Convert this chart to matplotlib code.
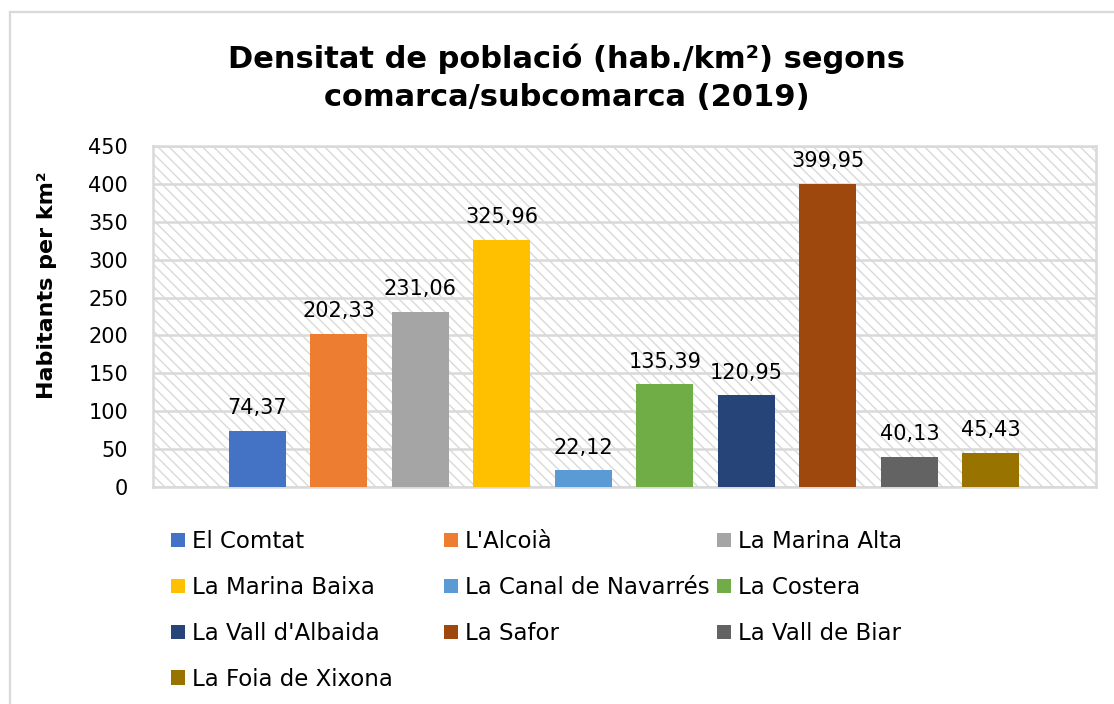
import numpy as np
import matplotlib
matplotlib.use('Agg')
import matplotlib.pyplot as plt
from matplotlib.patches import Rectangle
from matplotlib.lines import Line2D

# comarques i densitat (hab./km2) 2019
comarques = ['El Comtat', "L'Alcoià", 'La Marina Alta', 'La Marina Baixa',
             'La Canal de Navarrés', 'La Costera', "La Vall d'Albaida",
             'La Safor', 'La Vall de Biar', 'La Foia de Xixona']
densitat = [74.37, 202.33, 231.06, 325.96, 22.12, 135.39, 120.95, 399.95, 40.13, 45.43]
colors = ['#4472C4', '#ED7D31', '#A5A5A5', '#FFC000', '#5B9BD5',
          '#70AD47', '#264478', '#9E480E', '#636363', '#997300']
yticks = [0, 50, 100, 150, 200, 250, 300, 350, 400, 450]

grey = '#d9d9d9'
plt.rcParams['hatch.linewidth'] = 1.0

fig = plt.figure(figsize=(11.14, 7.04), dpi=100)
ax = fig.add_axes([153/1114, 1-487/704, (1096-153)/1114, (487-146)/704])

# fons ratllat
ax.add_patch(Rectangle((0, 0), 1, 1, transform=ax.transAxes, facecolor='white',
                       edgecolor=grey, hatch='\\\\\\', linewidth=0, zorder=0))

x = np.arange(len(comarques))
bars = []
for i in range(len(comarques)):
    b = ax.bar(x[i], densitat[i], width=0.70, color=colors[i], label=comarques[i], zorder=3)
    bars.append(b)
    ax.annotate(('%.2f' % densitat[i]).replace('.', ','), (x[i], densitat[i]),
                xytext=(0, 9), textcoords='offset points', ha='center', va='bottom',
                fontsize=15, color='black', zorder=4)

ax.set_xlim(-1.28, 10.29)
ax.set_ylim(0, 450)
ax.set_yticks(yticks)
ax.set_xticks([])
ax.tick_params(axis='y', length=0, labelsize=15, pad=18)
ax.yaxis.grid(True, color=grey, linewidth=1.8, zorder=1)
ax.set_axisbelow(True)
for s in ax.spines.values():
    s.set_color(grey)
    s.set_linewidth(1.8)

fig.text(47/1114, 1-285/704, 'Habitants per km²', rotation=90, ha='center', va='center',
         fontsize=16, fontweight='bold')

fig.text(567/1114, 1-44/704, 'Densitat de població (hab./km²) segons\ncomarca/subcomarca (2019)',
         ha='center', va='top', fontsize=22, fontweight='bold', linespacing=1.38)

# llegenda en tres columnes
cols_x = [171, 444, 717]
for c in range(3):
    idx = list(range(c, len(comarques), 3))
    fig.legend([bars[i] for i in idx], [comarques[i] for i in idx],
               loc='upper left', bbox_to_anchor=(cols_x[c]/1114, 1-530/704),
               frameon=False, fontsize=16.5, handlelength=0.59, handleheight=0.59,
               handletextpad=0.32, labelspacing=1.0, borderpad=0, borderaxespad=0)

# vora del grafic
fig.add_artist(Line2D([10/1114, 10/1114], [0, 1-12/704], color=grey, linewidth=1.6))
fig.add_artist(Line2D([10/1114, 1], [1-12/704, 1-12/704], color=grey, linewidth=1.6))

fig.savefig('out.png', dpi=100)
